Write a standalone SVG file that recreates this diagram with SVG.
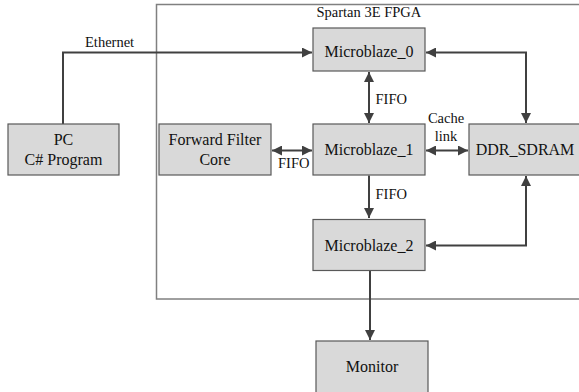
<svg xmlns="http://www.w3.org/2000/svg" width="579" height="392" viewBox="0 0 579 392">
<style>
.box{fill:#d9d9d9;stroke:#595959;stroke-width:1.2}
.t{font-size:16px;fill:#111;text-anchor:middle}
.s{font-size:14.5px;fill:#111}
.c{fill:none;stroke:#404040;stroke-width:2}
.frame{fill:none;stroke:#808080;stroke-width:1.5}
</style>
<defs>
<marker id="ah" viewBox="0 0 10 10" refX="10" refY="5" markerWidth="10" markerHeight="10" markerUnits="userSpaceOnUse" orient="auto-start-reverse">
<path d="M0,0 L10,5 L0,10 Z" fill="#404040"/>
</marker>
</defs>
<g font-family="'Liberation Serif', 'DejaVu Serif', serif">
<rect class="frame" x="156.5" y="4.5" width="440" height="294.5"/>
<text class="s" x="316.5" y="17">Spartan 3E FPGA</text>
<g id="connectors">
<path class="c" d="M63,124 V52.5 H312" marker-end="url(#ah)"/>
<path class="c" d="M426,52.5 H526 V123" marker-start="url(#ah)" marker-end="url(#ah)"/>
<path class="c" d="M369,72 V123" marker-start="url(#ah)" marker-end="url(#ah)"/>
<path class="c" d="M272,150.5 H312" marker-start="url(#ah)" marker-end="url(#ah)"/>
<path class="c" d="M426,150.5 H468" marker-start="url(#ah)" marker-end="url(#ah)"/>
<path class="c" d="M369,175.5 V218" marker-end="url(#ah)"/>
<path class="c" d="M526,176 V245.5 H426" marker-start="url(#ah)" marker-end="url(#ah)"/>
<path class="c" d="M370,271 V340" marker-end="url(#ah)"/>
<text class="s" x="85" y="46.5">Ethernet</text>
<text class="s" x="375.5" y="104">FIFO</text>
<text class="s" x="278" y="167.5">FIFO</text>
<text class="s" x="375.5" y="198.5">FIFO</text>
<text class="s" x="446" y="123" text-anchor="middle">Cache</text>
<text class="s" x="446" y="141" text-anchor="middle">link</text>
</g>
<g id="pc">
<rect class="box" x="8" y="124" width="111" height="51"/>
<text class="t" x="63.5" y="145">PC</text>
<text class="t" x="63.5" y="165">C# Program</text>
</g>
<g id="ffc">
<rect class="box" x="159" y="124" width="112" height="51"/>
<text class="t" x="215" y="145">Forward Filter</text>
<text class="t" x="215" y="165">Core</text>
</g>
<g id="mb0">
<rect class="box" x="313" y="28" width="112" height="43"/>
<text class="t" x="369" y="57">Microblaze_0</text>
</g>
<g id="mb1">
<rect class="box" x="313" y="124" width="112" height="51"/>
<text class="t" x="369" y="155">Microblaze_1</text>
</g>
<g id="ddr">
<rect class="box" x="469" y="124" width="120" height="51"/>
<text class="t" x="525" y="155">DDR_SDRAM</text>
</g>
<g id="mb2">
<rect class="box" x="313" y="219.5" width="112" height="51"/>
<text class="t" x="369" y="250.5">Microblaze_2</text>
</g>
<g id="monitor">
<rect class="box" x="316" y="341" width="112" height="60"/>
<text class="t" x="372" y="372">Monitor</text>
</g>
</g>
</svg>
